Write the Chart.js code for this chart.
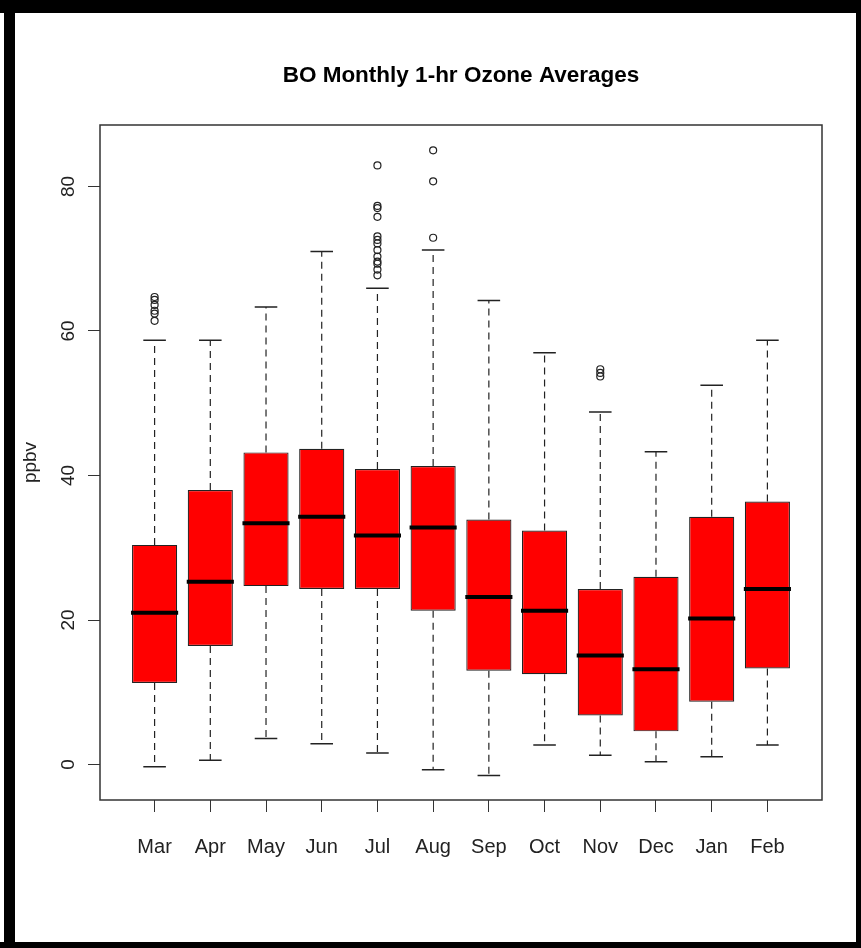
<!DOCTYPE html>
<html>
<head>
<meta charset="utf-8">
<title>BO Monthly 1-hr Ozone Averages</title>
<script src="https://cdn.jsdelivr.net/npm/chart.js@4/dist/chart.umd.min.js"></script>
<style>
  html, body { margin: 0; padding: 0; background: #fff; }
  #boxChart { display: block; }
</style>
</head>
<body>
<canvas id="boxChart" width="861" height="948"></canvas>
<script>
// Box plot values (ppbv)
const months = ['Mar', 'Apr', 'May', 'Jun', 'Jul', 'Aug', 'Sep', 'Oct', 'Nov', 'Dec', 'Jan', 'Feb'];
const lowWhisker  = [-0.3, 0.6, 3.6, 2.9, 1.6, -0.7, -1.5, 2.7, 1.3, 0.4, 1.1, 2.7];
const q1          = [11.3, 16.4, 24.7, 24.3, 24.3, 21.3, 13.0, 12.5, 6.8, 4.6, 8.7, 13.3];
const medians     = [21.0, 25.3, 33.4, 34.3, 31.7, 32.8, 23.2, 21.3, 15.1, 13.2, 20.2, 24.3];
const q3          = [30.4, 38.0, 43.2, 43.7, 40.9, 41.3, 33.9, 32.4, 24.3, 26.0, 34.3, 36.4];
const highWhisker = [58.7, 58.7, 63.3, 71.0, 65.9, 71.2, 64.2, 57.0, 48.8, 43.3, 52.5, 58.7];

// Outliers per month
const outliersMar = [64.7, 64.3, 63.6, 62.8, 62.4, 61.4];
const outliersJul = [82.9, 77.3, 77.0, 75.8, 73.1, 72.6, 72.1, 71.2, 70.3, 69.6, 69.3, 68.5, 67.7];
const outliersAug = [85.0, 80.7, 72.9];
const outliersNov = [54.7, 54.2, 53.7];
const outliers = [outliersMar, [], [], [], outliersJul, outliersAug, [], [], outliersNov, [], [], []];

const yTicks = [0, 20, 40, 60, 80];

const textFont = "'Liberation Sans', Arial, sans-serif";
const narrowFont = "'Liberation Sans Narrow', 'Liberation Sans', Arial, sans-serif";

// Black frame around the whole picture + white background
const framePlugin = {
    id: 'frame',
    beforeDraw(chart) {
        const ctx = chart.ctx;
        const w = chart.width, h = chart.height;
        ctx.save();
        ctx.fillStyle = '#fff';
        ctx.fillRect(0, 0, w, h);
        ctx.fillStyle = '#000';
        ctx.fillRect(0, 0, w, 13);      // top
        ctx.fillRect(4, 0, 11, h);      // left
        ctx.fillRect(w - 5, 0, 5, h);   // right
        ctx.fillRect(0, h - 6, w, 6);   // bottom
        ctx.restore();
    }
};

// Whiskers, staples, medians and the plot box
const boxPlotPlugin = {
    id: 'boxParts',
    afterDatasetsDraw(chart) {
        const ctx = chart.ctx;
        const yScale = chart.scales.y;
        const bars = chart.getDatasetMeta(0).data;
        ctx.save();
        bars.forEach(function(bar, i) {
            const props = bar.getProps(['x', 'width'], true);
            const cx = props.x;
            const half = props.width / 2;
            const yLow = yScale.getPixelForValue(lowWhisker[i]);
            const yHigh = yScale.getPixelForValue(highWhisker[i]);
            const yQ1 = yScale.getPixelForValue(q1[i]);
            const yQ3 = yScale.getPixelForValue(q3[i]);
            const yMed = yScale.getPixelForValue(medians[i]);

            // dashed whiskers
            ctx.strokeStyle = '#222';
            ctx.lineWidth = 1.2;
            ctx.setLineDash([7, 5]);
            ctx.beginPath();
            ctx.moveTo(cx, yQ3);
            ctx.lineTo(cx, yHigh);
            ctx.moveTo(cx, yQ1);
            ctx.lineTo(cx, yLow);
            ctx.stroke();

            // staples (half the box width)
            ctx.setLineDash([]);
            ctx.lineWidth = 1.5;
            ctx.beginPath();
            ctx.moveTo(cx - half / 2, yHigh);
            ctx.lineTo(cx + half / 2, yHigh);
            ctx.moveTo(cx - half / 2, yLow);
            ctx.lineTo(cx + half / 2, yLow);
            ctx.stroke();

            // median
            ctx.strokeStyle = '#000';
            ctx.lineWidth = 4;
            ctx.beginPath();
            ctx.moveTo(cx - half - 1, yMed);
            ctx.lineTo(cx + half + 1, yMed);
            ctx.stroke();
        });

        // plot box
        const a = chart.chartArea;
        ctx.strokeStyle = '#333';
        ctx.lineWidth = 1.5;
        ctx.strokeRect(a.left, a.top, a.right - a.left, a.bottom - a.top);
        ctx.restore();
    }
};

const boxData = months.map(function(m, i) {
    return { x: i + 1, y: [q1[i], q3[i]] };
});

const outlierData = [];
outliers.forEach(function(vals, i) {
    vals.forEach(function(v) {
        outlierData.push({ x: i + 1, y: v });
    });
});

const ctx = document.getElementById('boxChart').getContext('2d');
new Chart(ctx, {
    type: 'bar',
    data: {
        datasets: [{
            type: 'bar',
            label: 'IQR',
            data: boxData,
            backgroundColor: '#ff0000',
            borderColor: '#222',
            borderWidth: 1.2,
            borderSkipped: false,
            categoryPercentage: 0.81,
            barPercentage: 1.0
        }, {
            type: 'scatter',
            label: 'Outliers',
            data: outlierData,
            pointStyle: 'circle',
            pointRadius: 3.5,
            pointBorderWidth: 1.2,
            pointBorderColor: '#222',
            pointBackgroundColor: 'rgba(255,255,255,0)'
        }]
    },
    options: {
        responsive: false,
        animation: false,
        devicePixelRatio: 1,
        layout: {
            padding: { top: 0, left: 0, right: 39, bottom: 0 }
        },
        plugins: {
            legend: { display: false },
            tooltip: { enabled: false },
            title: {
                display: true,
                text: 'BO Monthly 1-hr Ozone Averages',
                fullSize: false,
                color: '#000',
                font: { family: narrowFont, size: 22.5, weight: 'bold' },
                padding: { top: 62, bottom: 36 }
            }
        },
        scales: {
            x: {
                type: 'linear',
                min: 0.02,
                max: 12.98,
                offset: false,
                afterBuildTicks: function(scale) {
                    scale.ticks = months.map(function(m, i) { return { value: i + 1 }; });
                },
                afterFit: function(scale) { scale.height = 148; },
                border: { display: false },
                grid: {
                    display: true,
                    offset: false,
                    drawOnChartArea: false,
                    drawTicks: true,
                    tickLength: 12,
                    tickColor: '#333',
                    tickWidth: 1
                },
                ticks: {
                    autoSkip: false,
                    maxRotation: 0,
                    minRotation: 0,
                    padding: 23,
                    color: '#222',
                    font: { family: narrowFont, size: 20 },
                    callback: function(value) { return months[value - 1]; }
                }
            },
            y: {
                type: 'linear',
                min: -4.9,
                max: 88.5,
                afterBuildTicks: function(scale) {
                    scale.ticks = yTicks.map(function(v) { return { value: v }; });
                },
                afterFit: function(scale) { scale.width = 100; },
                border: { display: false },
                grid: {
                    display: true,
                    drawOnChartArea: false,
                    drawTicks: true,
                    tickLength: 12,
                    tickColor: '#333',
                    tickWidth: 1
                },
                title: {
                    display: true,
                    text: 'ppbv',
                    color: '#222',
                    font: { family: textFont, size: 19 },
                    padding: { top: 19, bottom: 0 }
                },
                ticks: {
                    minRotation: 90,
                    maxRotation: 90,
                    crossAlign: 'center',
                    padding: 9,
                    color: '#222',
                    font: { family: textFont, size: 19 }
                }
            }
        }
    },
    plugins: [framePlugin, boxPlotPlugin]
});
</script>
</body>
</html>
